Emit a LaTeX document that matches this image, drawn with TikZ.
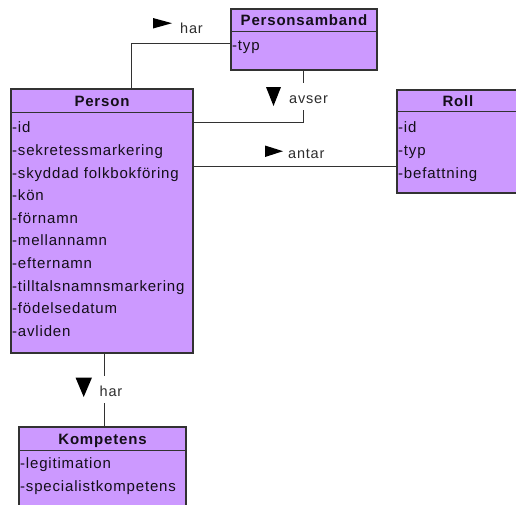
\documentclass[tikz,border=0pt]{standalone}
\usepackage{fontspec}
\setmainfont{Liberation Sans}[LetterSpace=5.5]
\usetikzlibrary{calc}
\definecolor{classfill}{RGB}{204,153,255}
\definecolor{edgegray}{RGB}{50,50,50}
\definecolor{textdark}{RGB}{20,15,25}
\definecolor{labelgray}{RGB}{45,45,45}
\begin{document}
\begin{tikzpicture}[x=1pt,y=-1pt,
  classbox/.style={draw=edgegray, fill=classfill, line width=1.1pt, rectangle, inner sep=0pt},
  headtext/.style={anchor=base, inner sep=0pt, font=\fontsize{15}{17}\selectfont\bfseries, text=textdark},
  attrtext/.style={anchor=base west, inner sep=0pt, font=\fontsize{15}{17}\selectfont, text=textdark},
  divider/.style={draw=edgegray, line width=1.1pt},
  conn/.style={draw=edgegray, line width=1pt},
  lbl/.style={anchor=base west, inner sep=0pt, font=\fontsize{14.5}{16}\selectfont, text=labelgray},
  lblgap/.style={lbl, fill=white, inner xsep=1pt, text height=20pt, text depth=7pt},
  dirmark/.style={fill=black}
]
\useasboundingbox (0,0) rectangle (516,504);
\clip (0,0) rectangle (516,504);

% bend and attachment coordinates of the connectors
\coordinate (harX) at (131,0);
\coordinate (harY) at (0,43);
\coordinate (avX) at (303,0);
\coordinate (avY) at (0,122);
\coordinate (antY) at (0,166);
\coordinate (kompX) at (104,0);

% class boxes
\node[classbox, minimum width=182pt, minimum height=264pt] (person) at (102,221) {};
\node[classbox, minimum width=146pt, minimum height=61pt] (psb) at (304,39.5) {};
\node[classbox, minimum width=122pt, minimum height=103pt] (roll) at (458,141.5) {};
\node[classbox, minimum width=167pt, minimum height=96pt] (komp) at (102.5,475) {};

% associations
\draw[conn] (person.north -| harX) |- (psb.west |- harY);
\draw[conn] (psb.south -| avX) |- (person.east |- avY);
\draw[conn] (person.east |- antY) -- (roll.west |- antY);
\draw[conn] (person.south -| kompX) -- (komp.north -| kompX);

% class headers
\foreach \c/\h in {person/24, psb/23, roll/22, komp/24}{
  \draw[divider] ($(\c.north west)+(0,\h)$) -- ($(\c.north east)+(0,\h)$);
}
\node[headtext] (personH) at ($(person.north)+(0,18)$) {Person};
\node[headtext] (psbH) at ($(psb.north)+(0,17)$) {Personsamband};
\node[headtext] (rollH) at ($(roll.north)+(0,17)$) {Roll};
\node[headtext] (kompH) at ($(komp.north)+(0,18)$) {Kompetens};

% attributes
\foreach \t [count=\i from 0] in {-id,-sekretessmarkering,-skyddad folkbokföring,-kön,-förnamn,-mellannamn,-efternamn,-tilltalsnamnsmarkering,-födelsedatum,-avliden}{
  \node[attrtext] (personA\i) at ($(person.north west)+(1.5,44.5+22.6*\i)$) {\t};
}
\node[attrtext] (psbA0) at ($(psb.north west)+(1.5,42.5)$) {-typ};
\foreach \t [count=\i from 0] in {-id,-typ,-befattning}{
  \node[attrtext] (rollA\i) at ($(roll.north west)+(1.5,43+22.8*\i)$) {\t};
}
\node[attrtext] (kompA0) at ($(komp.north west)+(1.5,42.5)$) {-legitimation};
\node[attrtext] (kompA1) at ($(komp.north west)+(1.5,65)$) {-specialistkompetens};

% association names with reading direction
\fill[dirmark] (153,18) -- (153,28.5) -- (172,23.2) -- cycle;
\node[lbl] (harTop) at (180,33.5) {har};

\fill[dirmark] (266,87) -- (281,87) -- (273.5,106) -- cycle;
\node[lblgap] (avserL) at (288,103) {avser};

\fill[dirmark] (265,145.5) -- (265,157) -- (283,151.2) -- cycle;
\node[lbl] (antarL) at (288,158.5) {antar};

\fill[dirmark] (75.5,377.5) -- (92,377.5) -- (83.7,397) -- cycle;
\node[lblgap] (harBot) at (98.5,396) {har};
\end{tikzpicture}
\end{document}
